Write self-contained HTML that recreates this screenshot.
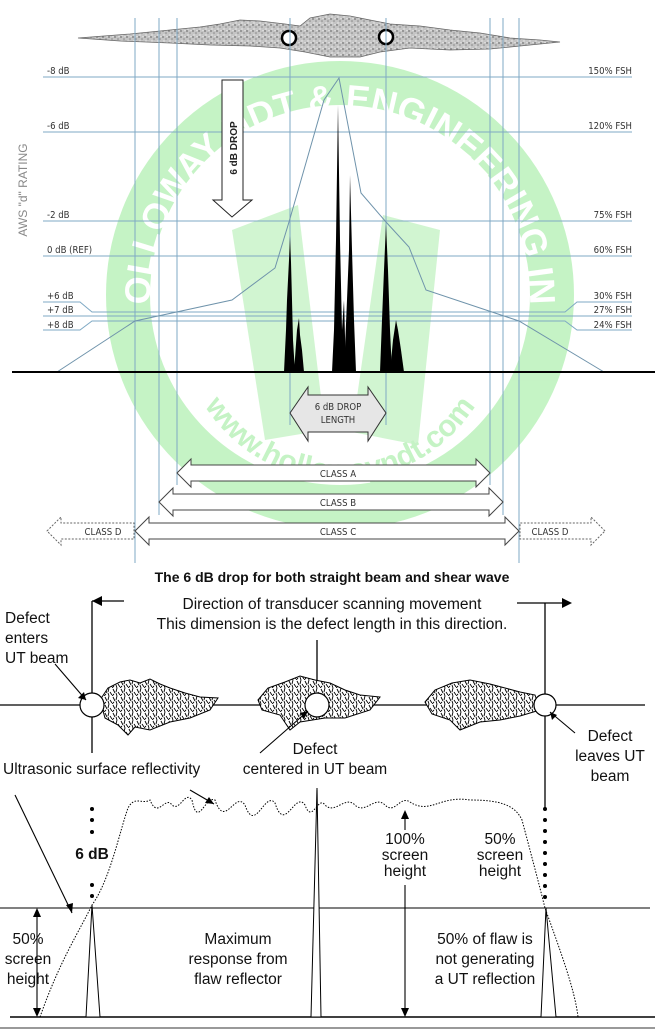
<!DOCTYPE html>
<html><head><meta charset="utf-8"><style>
html,body{margin:0;padding:0;background:#fff}
svg{display:block}
.s{font-family:"DejaVu Sans Condensed","Liberation Sans",sans-serif;font-size:9.5px;fill:#333}
.b{font-family:"Liberation Sans",sans-serif;font-size:15.5px;fill:#111}
</style></head><body>
<svg width="664" height="1030" viewBox="0 0 664 1030" xmlns="http://www.w3.org/2000/svg">
<defs>
<pattern id="g" width="6" height="6" patternUnits="userSpaceOnUse"><rect width="6" height="6" fill="#c4c4c4"/><circle cx="1" cy="1" r="0.9" fill="#777"/><circle cx="4" cy="3" r="0.8" fill="#888"/><circle cx="2" cy="5" r="0.7" fill="#eee"/><circle cx="5" cy="0.5" r="0.6" fill="#eee"/></pattern>
<pattern id="h" width="8" height="8" patternUnits="userSpaceOnUse"><rect width="8" height="8" fill="#fff"/><path d="M1 1l2 4M5 0l-1 4M6 4l2 3M2 6l-2 2M4 5l1 3" stroke="#000" stroke-width="0.9"/></pattern>
<path id="arcT" d="M150 300 A190 190 0 0 1 530 300"/>
<path id="arcB" d="M185 360 A160 160 0 0 0 495 360"/>
</defs>
<!-- watermark -->
<g opacity="0.4">
<circle cx="340" cy="295" r="212" fill="none" stroke="#6fe36f" stroke-width="44"/>
<polygon points="232,230 298,205 325,430 265,440" fill="#8ee88e"/>
<polygon points="383,215 440,230 418,445 352,432" fill="#8ee88e"/>
<text font-family="Liberation Sans,sans-serif" font-weight="bold" font-size="36" fill="#fff"><textPath href="#arcT" startOffset="50%" text-anchor="middle">HOLLOWAY NDT &amp; ENGINEERING INC</textPath></text>
<text font-family="Liberation Sans,sans-serif" font-weight="bold" font-size="30" fill="#6fe36f"><textPath href="#arcB" startOffset="50%" text-anchor="middle">www.hollowayndt.com</textPath></text>
</g>
<!-- weld blob -->
<path d="M78 38 L130 34 L170 30 L200 27 L220 24 L240 20 L260 21 L285 24 L300 26 L310 18 L330 14 L350 16 L370 20 L390 24 L420 26 L450 30 L480 33 L510 38 L540 40 L560 42 L520 46 L490 49 L450 50 L410 48 L380 52 L360 57 L330 57 L305 52 L280 48 L250 46 L210 45 L170 43 L120 41 Z" fill="url(#g)" stroke="#666" stroke-width="0.8"/>
<circle cx="289" cy="38" r="7" fill="#fff" stroke="#000" stroke-width="2.5"/>
<circle cx="386" cy="37" r="7" fill="#fff" stroke="#000" stroke-width="2.5"/>
<!-- vertical lines -->
<g stroke="#7fa9c4" stroke-width="1">
<line x1="135" y1="18" x2="135" y2="563"/><line x1="519" y1="18" x2="519" y2="563"/>
<line x1="159" y1="18" x2="159" y2="515"/><line x1="503" y1="18" x2="503" y2="515"/>
<line x1="177" y1="18" x2="177" y2="485"/><line x1="490" y1="18" x2="490" y2="485"/>
<line x1="290" y1="18" x2="290" y2="425"/><line x1="386" y1="18" x2="386" y2="425"/>
</g>
<!-- horizontal lines -->
<g stroke="#7fa9c4" stroke-width="1" fill="none">
<line x1="43" y1="77" x2="632" y2="77"/><line x1="43" y1="132" x2="632" y2="132"/>
<line x1="43" y1="221" x2="632" y2="221"/><line x1="43" y1="256" x2="632" y2="256"/>
<polyline points="43,302 80,302 92,312 565,312 577,302 632,302"/>
<line x1="43" y1="316" x2="632" y2="316"/>
<polyline points="43,330 80,330 92,321 565,321 577,330 632,330"/>
</g>
<g class="s">
<text x="47" y="74">-8 dB</text><text x="47" y="129">-6 dB</text><text x="47" y="218">-2 dB</text><text x="47" y="253">0 dB (REF)</text>
<text x="47" y="299">+6 dB</text><text x="47" y="313">+7 dB</text><text x="47" y="328">+8 dB</text>
<g text-anchor="end"><text x="632" y="74">150% FSH</text><text x="632" y="129">120% FSH</text><text x="632" y="218">75% FSH</text><text x="632" y="253">60% FSH</text><text x="632" y="299">30% FSH</text><text x="632" y="313">27% FSH</text><text x="632" y="328">24% FSH</text></g>
</g>
<text transform="translate(27,190) rotate(-90)" text-anchor="middle" font-family="Liberation Sans,sans-serif" font-size="12" fill="#888">AWS "d" RATING</text>
<!-- envelope -->
<polyline points="57,372 135,321 232,300 275,268 289,222 324,100 339,78 361,193 386,222 409,247 426,290 519,321 604,372" fill="none" stroke="#6f93ab" stroke-width="1"/>
<!-- peaks -->
<g fill="#000">
<polygon points="284,372 286,330 287,300 289,260 290,236 291,262 292,300 293,340 295,372"/>
<polygon points="294,372 297,330 299,318 300,335 302,350 304,372"/>
<polygon points="332,372 334,330 336,240 338,105 340,240 342,330 344,300 346,372"/>
<polygon points="344,372 347,300 349,250 350,175 352,250 354,320 356,372"/>
<polygon points="380,372 382,320 384,270 386,224 388,270 390,330 392,372"/>
<polygon points="390,372 393,340 396,320 398,330 401,350 404,372"/>
</g>
<line x1="12" y1="372" x2="655" y2="372" stroke="#000" stroke-width="2"/>
<!-- 6 dB drop arrow -->
<path d="M222 80 H243 V200 H252 L232 217 L213 200 H222 Z" fill="#fff" stroke="#222" stroke-width="1"/>
<text transform="translate(237,148) rotate(-90)" text-anchor="middle" font-family="Liberation Sans,sans-serif" font-weight="bold" font-size="10" fill="#222">6 dB DROP</text>
<!-- drop length -->
<path d="M290 413 L308 387 V395 H368 V387 L386 413 L368 441 V432 H308 V441 Z" fill="#e6e6e6" stroke="#333" stroke-width="1"/>
<text class="s" x="338" y="410" text-anchor="middle">6 dB DROP</text><text class="s" x="338" y="423" text-anchor="middle">LENGTH</text>
<!-- classes -->
<g fill="#fff" stroke="#444" stroke-width="1">
<path d="M177 473 L191 459 V465 H476 V459 L490 473 L476 487 V481 H191 V487 Z"/>
<path d="M159 502 L173 488 V494 H489 V488 L503 502 L489 516 V510 H173 V516 Z"/>
<path d="M135 531 L149 517 V523 H505 V517 L519 531 L505 545 V539 H149 V545 Z"/>
<g stroke-dasharray="2,1.5" stroke="#666"><path d="M47 531 L61 517 V523 H134 V539 H61 V545 Z"/><path d="M605 531 L591 517 V523 H520 V539 H591 V545 Z"/></g>
</g>
<g class="s" text-anchor="middle"><text x="338" y="477">CLASS A</text><text x="338" y="506">CLASS B</text><text x="338" y="535">CLASS C</text><text x="103" y="535">CLASS D</text><text x="550" y="535">CLASS D</text></g>
<text x="332" y="582" text-anchor="middle" font-family="Liberation Sans,sans-serif" font-weight="bold" font-size="14" fill="#111">The 6 dB drop for both straight beam and shear wave</text>
<!-- bottom diagram -->
<g stroke="#000" stroke-width="1.3" fill="none">
<line x1="92" y1="601" x2="92" y2="753"/><line x1="92" y1="601" x2="124" y2="601"/>
<line x1="517" y1="603" x2="563" y2="603"/><line x1="545" y1="603" x2="545" y2="808"/>
<line x1="317" y1="640" x2="317" y2="705"/>
<line x1="0" y1="705" x2="645" y2="705"/>
</g>
<polygon points="92,601 102,596 102,606" fill="#000"/><polygon points="572,603 562,598 562,608" fill="#000"/>
<path d="M100 700 L108 688 L120 682 L130 680 L140 683 L150 679 L160 684 L170 688 L185 693 L200 697 L218 698 L210 710 L190 718 L170 722 L150 730 L135 727 L128 735 L118 725 L105 718 Z" fill="url(#h)" stroke="#000"/>
<path d="M258 700 L268 688 L285 682 L300 676 L315 680 L330 683 L345 690 L360 695 L380 697 L370 710 L345 718 L325 718 L300 722 L290 730 L280 715 L262 710 Z" fill="url(#h)" stroke="#000"/>
<path d="M425 702 L435 690 L452 683 L470 680 L490 684 L505 688 L520 692 L535 695 L540 710 L520 716 L500 720 L480 722 L460 730 L450 720 L432 714 Z" fill="url(#h)" stroke="#000"/>
<g fill="#fff" stroke="#000" stroke-width="1.2"><circle cx="92" cy="705" r="12"/><circle cx="317" cy="705" r="12"/><circle cx="545" cy="705" r="11"/></g>
<g stroke="#000" stroke-width="1.1">
<line x1="55" y1="664" x2="86" y2="700"/><line x1="260" y1="753" x2="308" y2="711"/><line x1="575" y1="733" x2="550" y2="712"/>
<line x1="190" y1="790" x2="214" y2="804"/><line x1="15" y1="795" x2="72" y2="913"/>
<line x1="0" y1="908" x2="650" y2="908"/><line x1="10" y1="1017" x2="655" y2="1017" stroke-width="1.6"/>
<line x1="37" y1="912" x2="37" y2="1013"/><line x1="405" y1="814" x2="405" y2="830"/><line x1="405" y1="885" x2="405" y2="1013"/>
<line x1="317" y1="790" x2="317" y2="1017"/>
</g>
<line x1="0" y1="1028" x2="655" y2="1028" stroke="#999" stroke-width="2"/>
<g fill="#000">
<polygon points="86,700 78,698 84,692"/><polygon points="308,711 300,713 304,719"/><polygon points="550,712 552,720 557,715"/>
<polygon points="214,804 205,803 209,797"/><polygon points="72,913 66,905 73,903"/>
<polygon points="37,908 33,917 41,917"/><polygon points="37,1017 33,1008 41,1008"/>
<polygon points="405,810 401,819 409,819"/><polygon points="405,1017 401,1008 409,1008"/>
</g>
<path d="M40 1017 C60 960 80 930 92 905 C110 880 120 830 128 808 C135 795 142 805 150 800 C158 820 165 795 172 805 C180 812 185 790 192 800 C198 830 205 795 215 800 C225 830 235 790 245 805 C255 835 265 790 275 803 C285 835 295 790 305 805 C312 825 318 795 325 805 C335 815 345 795 355 805 C365 815 375 795 385 805 C395 815 400 795 410 802 C430 815 440 795 470 800 C500 800 515 805 522 820 C530 850 538 880 545 908 C560 950 575 990 578 1017" fill="none" stroke="#000" stroke-width="1" stroke-dasharray="1.5,1.5"/>
<g fill="#000"><circle cx="92" cy="809" r="2"/><circle cx="92" cy="820" r="2"/><circle cx="92" cy="832" r="2"/><circle cx="92" cy="885" r="2"/><circle cx="92" cy="896" r="2"/>
<circle cx="545" cy="809" r="2"/><circle cx="545" cy="820" r="2"/><circle cx="545" cy="831" r="2"/><circle cx="545" cy="842" r="2"/><circle cx="545" cy="853" r="2"/><circle cx="545" cy="864" r="2"/><circle cx="545" cy="875" r="2"/><circle cx="545" cy="886" r="2"/><circle cx="545" cy="897" r="2"/></g>
<g fill="#fff" stroke="#000" stroke-width="1">
<polygon points="86,1017 92,905 100,1017"/><polygon points="311,1017 317,788 321,1017"/><polygon points="541,1017 546,908 556,1017"/></g>
<g class="b">
<text x="332" y="609" text-anchor="middle">Direction of transducer scanning movement</text>
<text x="332" y="629" text-anchor="middle">This dimension is the defect length in this direction.</text>
<text x="5" y="623">Defect</text><text x="5" y="643">enters</text><text x="5" y="663">UT beam</text>
<text x="315" y="754" text-anchor="middle">Defect</text><text x="315" y="774" text-anchor="middle">centered in UT beam</text>
<text x="610" y="741" text-anchor="middle">Defect</text><text x="610" y="761" text-anchor="middle">leaves UT</text><text x="610" y="781" text-anchor="middle">beam</text>
<text x="3" y="774">Ultrasonic surface reflectivity</text>
<text x="92" y="859" text-anchor="middle" font-weight="bold">6 dB</text>
<g text-anchor="middle">
<text x="405" y="844">100%</text><text x="405" y="860">screen</text><text x="405" y="876">height</text>
<text x="500" y="844">50%</text><text x="500" y="860">screen</text><text x="500" y="876">height</text>
<text x="28" y="944">50%</text><text x="28" y="964">screen</text><text x="28" y="984">height</text>
<text x="238" y="944">Maximum</text><text x="238" y="964">response from</text><text x="238" y="984">flaw reflector</text>
<text x="485" y="944">50% of flaw is</text><text x="485" y="964">not generating</text><text x="485" y="984">a UT reflection</text>
</g></g>
</svg>
</body></html>
